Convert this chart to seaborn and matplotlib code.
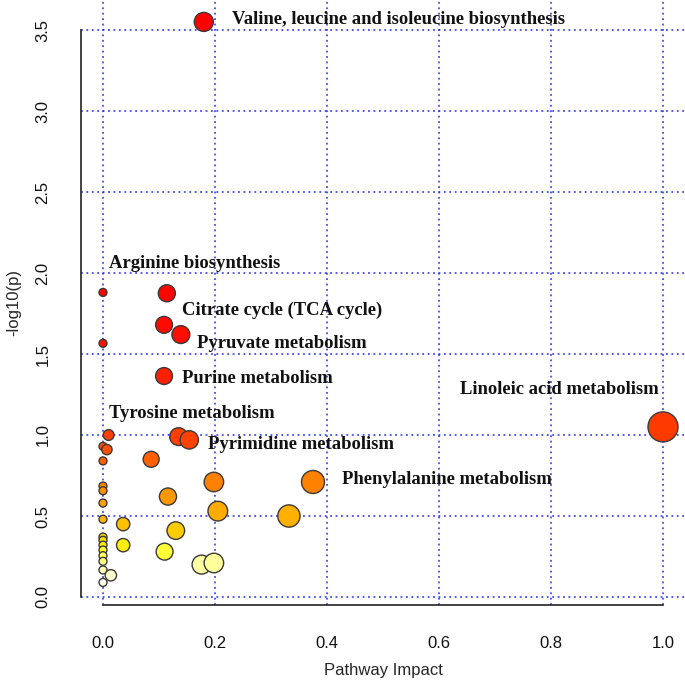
import numpy as np
import pandas as pd
import matplotlib
matplotlib.use("Agg")
import matplotlib.pyplot as plt
from matplotlib.colors import LinearSegmentedColormap
import seaborn as sns

# pathway impact (x) and -log10(p) (y)
impact = [0.18, 0.0, 0.114, 0.109, 0.139, 0.0, 0.109, 1.0, 0.01, 0.135,
          0.154, 0.0, 0.007, 0.0, 0.086, 0.198, 0.375, 0.0, 0.0, 0.116,
          0.0, 0.205, 0.332, 0.0, 0.036, 0.13, 0.0, 0.0, 0.0, 0.0,
          0.0, 0.0, 0.036, 0.11, 0.176, 0.198, 0.0, 0.014, 0.0]
logp = [3.55, 1.88, 1.875, 1.68, 1.62, 1.566, 1.364, 1.05, 1.0, 0.99,
        0.97, 0.93, 0.91, 0.84, 0.85, 0.71, 0.71, 0.685, 0.656, 0.62,
        0.58, 0.53, 0.50, 0.48, 0.45, 0.41, 0.37, 0.35, 0.32, 0.29,
        0.255, 0.22, 0.32, 0.28, 0.20, 0.21, 0.167, 0.134, 0.09]

# labelled pathways: index into the arrays above
label_idx = [0, 1, 2, 4, 6, 7, 8, 10, 16]
label_names = ["Valine, leucine and isoleucine biosynthesis",
               "Arginine biosynthesis",
               "Citrate cycle (TCA cycle)",
               "Pyruvate metabolism",
               "Purine metabolism",
               "Linoleic acid metabolism",
               "Tyrosine metabolism",
               "Pyrimidine metabolism",
               "Phenylalanine metabolism"]
# text offsets in pixels (right, up) from each point
label_offsets = [(28, 2), (6, 29), (15, -17), (16, -9), (18, -2),
                 (-203, 37), (0, 22), (19, -5), (29, 2)]

df = pd.DataFrame({"impact": impact, "logp": logp})
df["bubble"] = df["impact"] ** 0.6

heat = LinearSegmentedColormap.from_list("heat", [
    (0.0, "#FFFFFF"), (0.05, "#FFFFE8"), (0.1, "#FFFFA0"), (0.14, "#FFFF30"),
    (0.16, "#FFE800"), (0.21, "#FFC800"), (0.25, "#FFB000"), (0.31, "#FF9800"),
    (0.355, "#FF8000"), (0.425, "#FF6000"), (0.49, "#FF4000"), (0.68, "#FF2000"),
    (0.85, "#FF0800"), (1.0, "#FF0000")])

sns.set_style("white")
plt.rcParams["font.family"] = ["Liberation Sans", "DejaVu Sans"]

fig = plt.figure(figsize=(6.85, 6.85), dpi=100)
ax = fig.add_axes([81 / 685, 80 / 685, 604 / 685, 605 / 685])

sns.scatterplot(data=df, x="impact", y="logp", hue="logp", size="bubble",
                palette=heat, hue_norm=(0, 2), sizes=(33, 467), size_norm=(0, 1),
                edgecolor="#3a3a3a", linewidth=1.0, legend=False, ax=ax, zorder=3)

ax.set_xlim(-22 / 560, 582 / 560)
ax.set_ylim(-8 / 162, 597 / 162)
ax.set_xticks([0, 0.2, 0.4, 0.6, 0.8, 1.0])
ax.set_yticks([0, 0.5, 1.0, 1.5, 2.0, 2.5, 3.0, 3.5])
ax.set_xticklabels(["0.0", "0.2", "0.4", "0.6", "0.8", "1.0"])
ax.set_yticklabels(["0.0", "0.5", "1.0", "1.5", "2.0", "2.5", "3.0", "3.5"])
plt.setp(ax.get_yticklabels(), rotation=90, va="center")

ax.grid(True, color="#2828f0", linestyle=(0, (1, 2)), linewidth=1.3, alpha=0.85)
ax.set_axisbelow(True)

for s in ["top", "right"]:
    ax.spines[s].set_visible(False)
ax.spines["left"].set_bounds(0, 3.5)
ax.spines["bottom"].set_bounds(0, 1.0)
for s in ["left", "bottom"]:
    ax.spines[s].set_color("#222222")
    ax.spines[s].set_linewidth(1.2)

ax.tick_params(axis="both", direction="out", length=8, width=1.2, color="#222222",
               labelsize=12, labelcolor="#111111")
ax.tick_params(axis="x", pad=14)
ax.tick_params(axis="y", pad=14)

ax.set_xlabel("Pathway Impact", fontsize=12, labelpad=9)
ax.set_ylabel("-log10(p)", fontsize=12, labelpad=10)

for i, name, (dx, dy) in zip(label_idx, label_names, label_offsets):
    ax.annotate(name, xy=(impact[i], logp[i]), xytext=(dx, dy),
                textcoords="offset pixels", ha="left", va="center",
                fontfamily="Liberation Serif", fontweight="bold", fontsize=13.4,
                color="#111111", zorder=4, annotation_clip=False)

fig.savefig("out.png", dpi=100)
